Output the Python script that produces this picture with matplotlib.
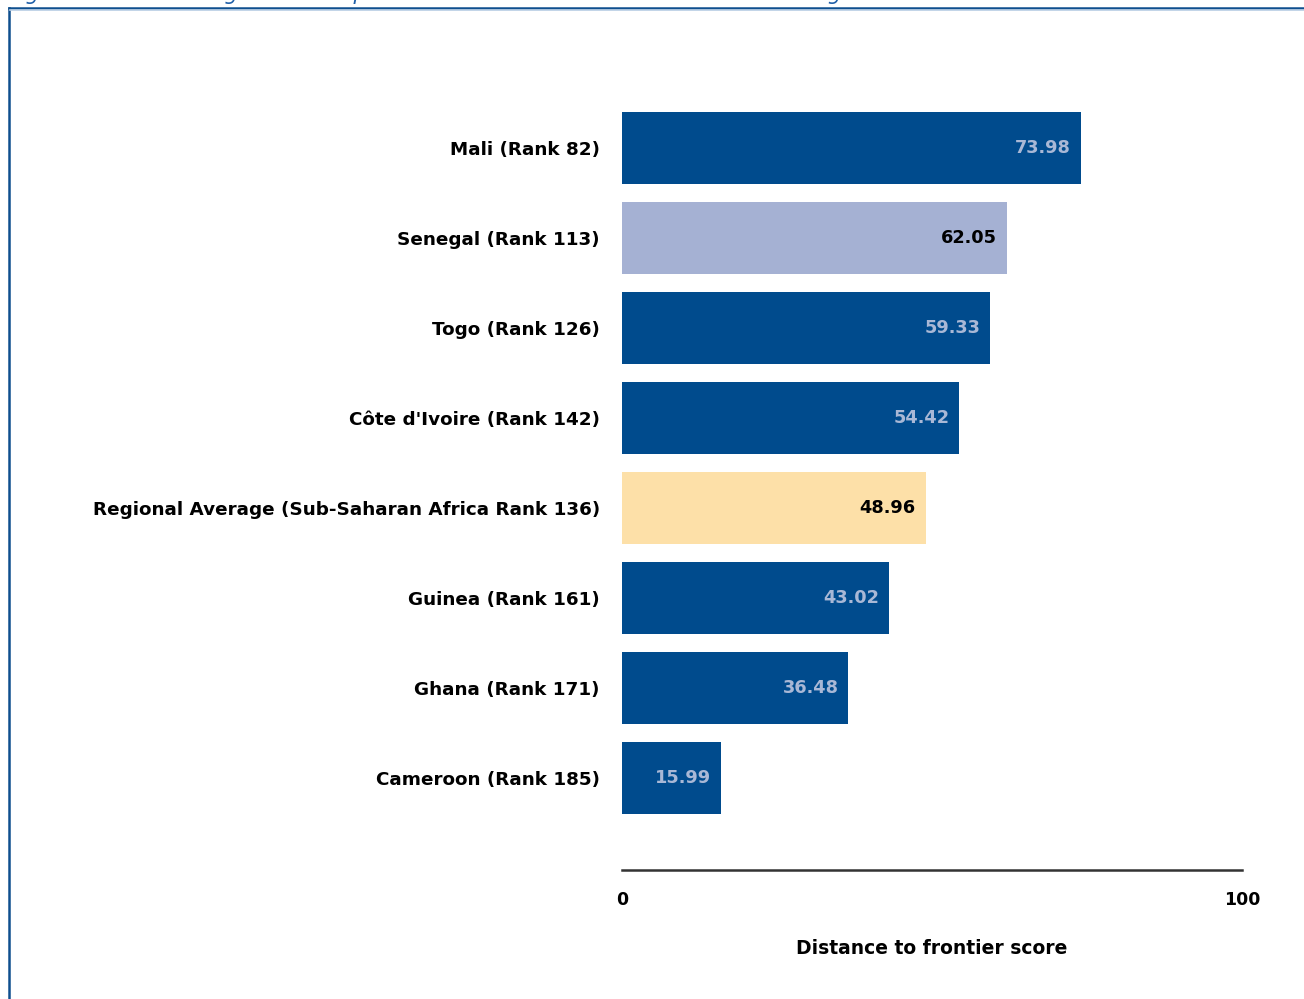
import matplotlib.pyplot as plt
from matplotlib.lines import Line2D

# Data
labels = ['Mali (Rank 82)', 'Senegal (Rank 113)', 'Togo (Rank 126)',
          "Côte d'Ivoire (Rank 142)",
          'Regional Average (Sub-Saharan Africa Rank 136)',
          'Guinea (Rank 161)', 'Ghana (Rank 171)', 'Cameroon (Rank 185)']
scores = [73.98, 62.05, 59.33, 54.42, 48.96, 43.02, 36.48, 15.99]
bar_colors = ['#004B8D', '#A5B1D3', '#004B8D', '#004B8D',
              '#FDE0A8', '#004B8D', '#004B8D', '#004B8D']
value_colors = ['#A9B8D6', 'black', '#A9B8D6', '#A9B8D6',
                'black', '#A9B8D6', '#A9B8D6', '#A9B8D6']

W, H = 1304, 999
fig = plt.figure(figsize=(W / 100, H / 100), dpi=100)
fig.patch.set_facecolor('white')

# axes placed in pixel terms
ax = fig.add_axes([622 / W, 1 - 870 / H, 620 / W, 770 / H])

y = list(range(len(labels)))
ax.barh(y, scores, height=0.8, color=bar_colors, edgecolor='none')
ax.set_xlim(0, 100)
ax.set_ylim(8.022, -0.533)

for i, (v, c) in enumerate(zip(scores, value_colors)):
    ax.annotate(f'{v:.2f}', xy=(v, i), xytext=(-7, 0), textcoords='offset points',
                ha='right', va='center', color=c, fontsize=12.8, fontweight='bold')

ax.set_yticks(y)
ax.set_yticklabels(labels, fontsize=13.2, fontweight='bold')
ax.tick_params(axis='y', length=0, pad=16)
ax.set_xticks([0, 100])
ax.set_xticklabels(['0', '100'], fontsize=12.5, fontweight='bold')
ax.tick_params(axis='x', length=0, pad=15)
ax.set_xlabel('Distance to frontier score', fontsize=13.5, fontweight='bold', labelpad=22)

for s in ['top', 'right', 'left']:
    ax.spines[s].set_visible(False)
ax.spines['bottom'].set_color('#333333')
ax.spines['bottom'].set_linewidth(1.8)

# frame and cut-off caption
fig.add_artist(Line2D([9 / W, 9 / W], [0, 1 - 8 / H], transform=fig.transFigure,
                      color='#0E4F8E', lw=1.8))
fig.add_artist(Line2D([9 / W, 1], [1 - 8 / H, 1 - 8 / H], transform=fig.transFigure,
                      color='#0E4F8E', lw=1.8))
fig.add_artist(Line2D([10 / W, 1], [1 - 10 / H, 1 - 10 / H], transform=fig.transFigure,
                      color='#B8CDE4', lw=1.2))
fig.text(8 / W, 1 + 6 / H, 'Figure 3.2 How Senegal and comparator economies rank on the ease of trading across borders',
         ha='left', va='center', fontsize=15, style='italic', color='#1F5FA8')

fig.savefig('out.png', dpi=100)
